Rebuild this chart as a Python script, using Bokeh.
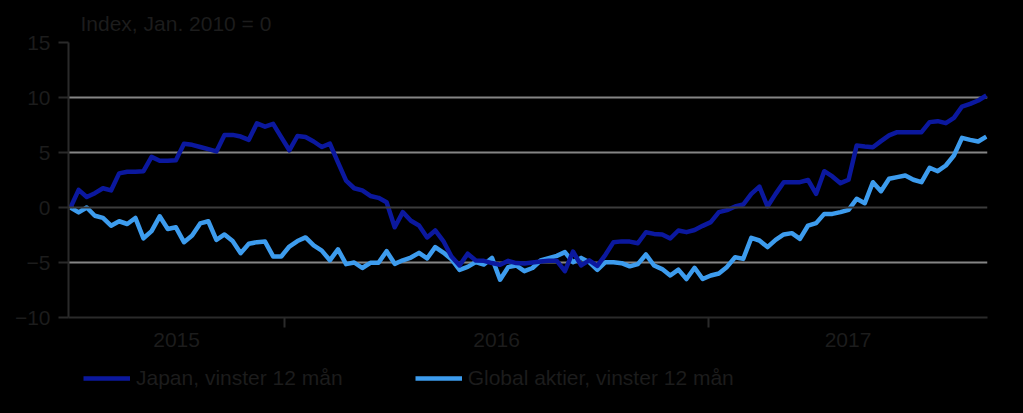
import pandas as pd
from bokeh.plotting import figure
from bokeh.layouts import column
from bokeh.models import Range1d, FixedTicker, Legend, LegendItem, Span, Title
from bokeh.embed import file_html
from bokeh.resources import INLINE

title_text = "Index, Jan. 2010 = 0"
series_names = ["Japan, vinster 12 mån", "Global aktier, vinster 12 mån"]
start_date = "2015-06-30"
year_labels = ["2015", "2016", "2017"]
year_starts = ["2016-01-01", "2017-01-01"]
y_ticks = [-10, -5, 0, 5, 10, 15]

japan = [
    0.0, 1.6, 0.95, 1.3, 1.75, 1.55, 3.1, 3.25, 3.25, 3.3,
    4.6, 4.25, 4.25, 4.3, 5.8, 5.7, 5.5, 5.3, 5.1, 6.6,
    6.6, 6.45, 6.15, 7.65, 7.35, 7.6, 6.4, 5.2, 6.5, 6.4,
    6.0, 5.5, 5.8, 4.1, 2.45, 1.75, 1.55, 1.05, 0.88, 0.48,
    -1.8, -0.42, -1.2, -1.64, -2.72, -2.09, -3.05, -4.45, -5.27, -4.2,
    -4.82, -4.85, -5.05, -5.2, -4.85, -5.05, -5.1, -5.0, -4.9, -4.85,
    -4.85, -5.79, -4.0, -5.27, -4.8, -5.3, -4.3, -3.15, -3.08, -3.1,
    -3.25, -2.25, -2.4, -2.45, -2.82, -2.09, -2.24, -2.05, -1.67, -1.33,
    -0.42, -0.24, 0.09, 0.27, 1.24, 1.9, 0.09, 1.24, 2.3, 2.3,
    2.3, 2.5, 1.24, 3.3, 2.82, 2.21, 2.52, 5.64, 5.55, 5.48,
    6.03, 6.55, 6.85, 6.85, 6.85, 6.85, 7.76, 7.85, 7.67, 8.15,
    9.18, 9.42, 9.73, 10.18,
]

global_equities = [
    0.0, -0.45, 0.0, -0.75, -0.95, -1.65, -1.25, -1.5, -0.95, -2.8,
    -2.15, -0.8, -1.95, -1.8, -3.15, -2.55, -1.45, -1.25, -2.95, -2.45,
    -3.05, -4.15, -3.3, -3.15, -3.1, -4.45, -4.45, -3.55, -3.05, -2.72,
    -3.45, -3.92, -4.8, -3.8, -5.15, -5.0, -5.5, -5.03, -5.03, -3.97,
    -5.12, -4.8, -4.55, -4.12, -4.63, -3.6, -4.1, -4.7, -5.67, -5.4,
    -4.97, -5.18, -4.58, -6.56, -5.42, -5.27, -5.79, -5.5, -4.82, -4.6,
    -4.4, -4.06, -4.97, -4.58, -4.97, -5.67, -4.97, -4.97, -5.06, -5.35,
    -5.15, -4.27, -5.27, -5.6, -6.18, -5.65, -6.5, -5.48, -6.5, -6.18,
    -6.0, -5.4, -4.52, -4.67, -2.76, -3.0, -3.6, -2.94, -2.45, -2.33,
    -2.85, -1.64, -1.42, -0.58, -0.58, -0.42, -0.21, 0.79, 0.39, 2.3,
    1.48, 2.61, 2.76, 2.91, 2.52, 2.3, 3.61, 3.3, 3.82, 4.73,
    6.33, 6.15, 6.0, 6.45,
]

TEXT = "#1c1c1c"
FONT = "Liberation Sans"
DARK_BLUE = "#0b189e"
LIGHT_BLUE = "#3d9cee"
LINE_W = 4.5

dates = pd.date_range(start_date, periods=len(japan), freq="7D")
x0 = dates[0] - pd.Timedelta(days=1.75)
x1 = dates[-1] + pd.Timedelta(days=1)


def ms(t):
    return float(pd.Timestamp(t).value / 1e6)


bounds = [ms(x0)] + [ms(d) for d in year_starts] + [ms(x1)]
mids = [(bounds[i] + bounds[i + 1]) / 2 for i in range(len(year_labels))]

# ---------------- main chart ----------------
p = figure(
    width=1023, height=360, frame_width=919, frame_height=275,
    x_axis_type="datetime",
    x_range=Range1d(x0, x1), y_range=Range1d(-10, 15),
    min_border_left=68, min_border_right=36, min_border_top=42, min_border_bottom=43,
    background_fill_color="black", border_fill_color="black",
    outline_line_color=None, output_backend="svg", toolbar_location=None,
)

p.title = Title(text=title_text, align="left", offset=12, standoff=15, text_font=FONT,
                text_font_size="21px", text_font_style="normal", text_color=TEXT)

p.yaxis.ticker = FixedTicker(ticks=y_ticks)
p.yaxis.axis_line_color = "#2a2a2a"
p.yaxis.axis_line_width = 2
p.yaxis.major_tick_line_color = "#2a2a2a"
p.yaxis.major_tick_line_width = 2
p.yaxis.major_tick_out = 10
p.yaxis.major_tick_in = 0
p.yaxis.minor_tick_line_color = None
p.yaxis.major_label_text_font = FONT
p.yaxis.major_label_text_font_size = "21px"
p.yaxis.major_label_text_color = TEXT
p.yaxis.major_label_standoff = 8

p.xaxis.ticker = FixedTicker(ticks=mids, minor_ticks=bounds[1:-1])
p.xaxis.major_label_overrides = {m: lab for m, lab in zip(mids, year_labels)}
p.xaxis.axis_line_color = "#2a2a2a"
p.xaxis.axis_line_width = 2
p.xaxis.major_tick_line_color = None
p.xaxis.minor_tick_line_color = "#2a2a2a"
p.xaxis.minor_tick_line_width = 2
p.xaxis.minor_tick_out = 10
p.xaxis.minor_tick_in = 0
p.xaxis.major_label_text_font = FONT
p.xaxis.major_label_text_font_size = "21px"
p.xaxis.major_label_text_color = TEXT
p.xaxis.major_label_standoff = 5

p.xgrid.grid_line_color = None
p.ygrid.ticker = FixedTicker(ticks=[t for t in y_ticks if t not in (0, -10)])
p.ygrid.grid_line_color = "#858585"
p.ygrid.grid_line_width = 2
p.add_layout(Span(location=0, dimension="width", line_color="#3c3c3c", line_width=2))

p.line(dates, global_equities, line_color=LIGHT_BLUE, line_width=LINE_W, line_join="round")
p.line(dates, japan, line_color=DARK_BLUE, line_width=LINE_W, line_join="round")

# ---------------- legend strip (same series, drawn outside its view) ----------------
lp = figure(
    width=1023, height=53, frame_width=919, frame_height=53,
    x_range=Range1d(0, 1), y_range=Range1d(0, 1),
    x_axis_location=None, y_axis_location=None,
    min_border_left=68, min_border_right=36, min_border_top=0, min_border_bottom=0,
    background_fill_color="black", border_fill_color="black",
    outline_line_color=None, output_backend="svg", toolbar_location=None,
)
lp.xgrid.grid_line_color = None
lp.ygrid.grid_line_color = None
k_jap = lp.line(dates, japan, line_color=DARK_BLUE, line_width=LINE_W)
k_glob = lp.line(dates, global_equities, line_color=LIGHT_BLUE, line_width=LINE_W)

legend = Legend(
    items=[LegendItem(label=series_names[0], renderers=[k_jap]),
           LegendItem(label=series_names[1], renderers=[k_glob])],
    location=(15, 23), orientation="horizontal",
    glyph_width=47, glyph_height=16, label_height=16, label_standoff=6, spacing=72,
    padding=0, margin=0, border_line_color=None, background_fill_alpha=0,
    label_text_font=FONT, label_text_font_size="21px", label_text_color=TEXT,
)
lp.add_layout(legend, "center")

layout = column(p, lp, spacing=0, background="black")

html = file_html(layout, INLINE)
html = html.replace("<body>", '<body style="margin:0;background:black">', 1)
open("out.html", "w").write(html)
